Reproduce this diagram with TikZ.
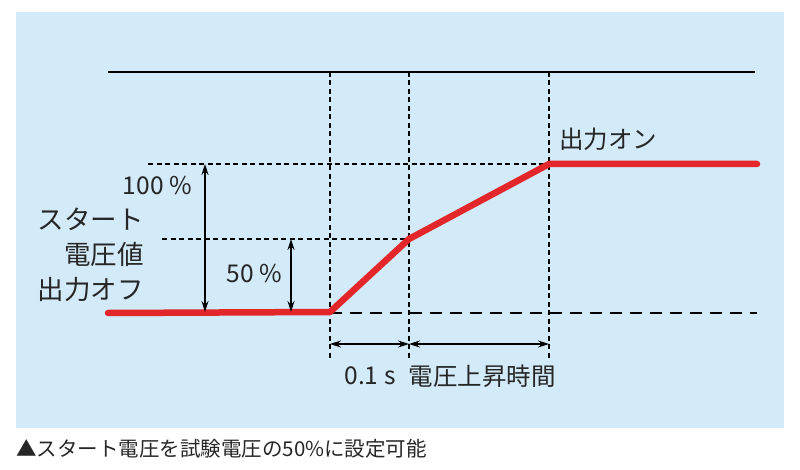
\documentclass[tikz,border=0pt]{standalone}
\usepackage{fontspec}
\setmainfont{Noto Sans CJK JP}
\usetikzlibrary{arrows.meta}
\definecolor{bgblue}{HTML}{D3EAF8}
\definecolor{redline}{HTML}{E3262A}
\tikzset{
  lbl/.style={font=\fontsize{24.5}{26}\selectfont, inner sep=0pt, text=black!85},
  biglbl/.style={font=\fontsize{26.5}{28}\selectfont, inner sep=0pt, text=black!85},
  guide/.style={dashed, dash pattern=on 5pt off 3.5pt, line width=1.1pt},
  dimarrow/.style={{Stealth[length=11pt,width=7pt]}-{Stealth[length=11pt,width=7pt]}, line width=1.1pt},
  signal/.style={redline, line width=6.5pt, line cap=round, line join=round},
}
\begin{document}
\begin{tikzpicture}[x=1pt,y=-1pt]
\useasboundingbox (0,0) rectangle (800,470);
\fill[bgblue] (16,12) rectangle (784,428);
% coordinates
\coordinate (tl) at (108,72);
\coordinate (tr) at (755,72);
\coordinate (s0) at (108,313);
\coordinate (s1) at (330,312);
\coordinate (s2) at (409,239);
\coordinate (s3) at (549,164);
\coordinate (s4) at (757,164);
\coordinate (b4) at (757,313);
\coordinate (v1t) at (330,72);
\coordinate (v1b) at (330,358);
\coordinate (v2t) at (409,72);
\coordinate (v2b) at (409,358);
\coordinate (v3t) at (549,72);
\coordinate (v3b) at (549,358);
\coordinate (h100) at (148,164);
\coordinate (h50) at (162,239);
\coordinate (a100t) at (205,164);
\coordinate (a100b) at (205,312);
\coordinate (a50t) at (291,239);
\coordinate (a50b) at (291,312);
\coordinate (ha1) at (330,344);
\coordinate (ha2) at (409,344);
\coordinate (ha3) at (549,344);
% top line
\draw[line width=1.4pt] (tl) -- (tr);
% guides
\draw[guide] (v1t) -- (v1b);
\draw[guide] (v2t) -- (v2b);
\draw[guide] (v3t) -- (v3b);
\draw[guide] (h100) -- (s3);
\draw[guide] (h50) -- (s2);
\draw[dashed, dash pattern=on 12pt off 8pt, line width=2.4pt] (s1 |- b4) -- (b4);
% signal
\draw[signal] (s0) -- (s1) -- (s2) -- (s3) -- (s4);
% arrows
\draw[dimarrow] (a100t) -- (a100b);
\draw[dimarrow] (a50t) -- (a50b);
\draw[dimarrow] (ha1) -- (ha2);
\draw[dimarrow] (ha2) -- (ha3);
% labels
\node[lbl, anchor=east] (p100) at (192,186) {100 \%};
\node[biglbl, anchor=east] (st1) at (144,219) {スタート};
\node[biglbl, anchor=east] (st2) at (144,254) {電圧値};
\node[biglbl, anchor=east] (off) at (144,290) {出力オフ};
\node[lbl, anchor=east] (p50) at (282,274) {50 \%};
\node[lbl, anchor=west] (on) at (559,139) {出力オン};
\node[lbl] (t01) at (370,376) {0.1 s};
\node[lbl] (rise) at (482,376) {電圧上昇時間};
\node[font=\fontsize{20.5}{22}\selectfont, inner sep=0pt, anchor=west, text=black!85] (cap) at (16,449) {▲スタート電圧を試験電圧の50\%に設定可能};
\end{tikzpicture}
\end{document}
